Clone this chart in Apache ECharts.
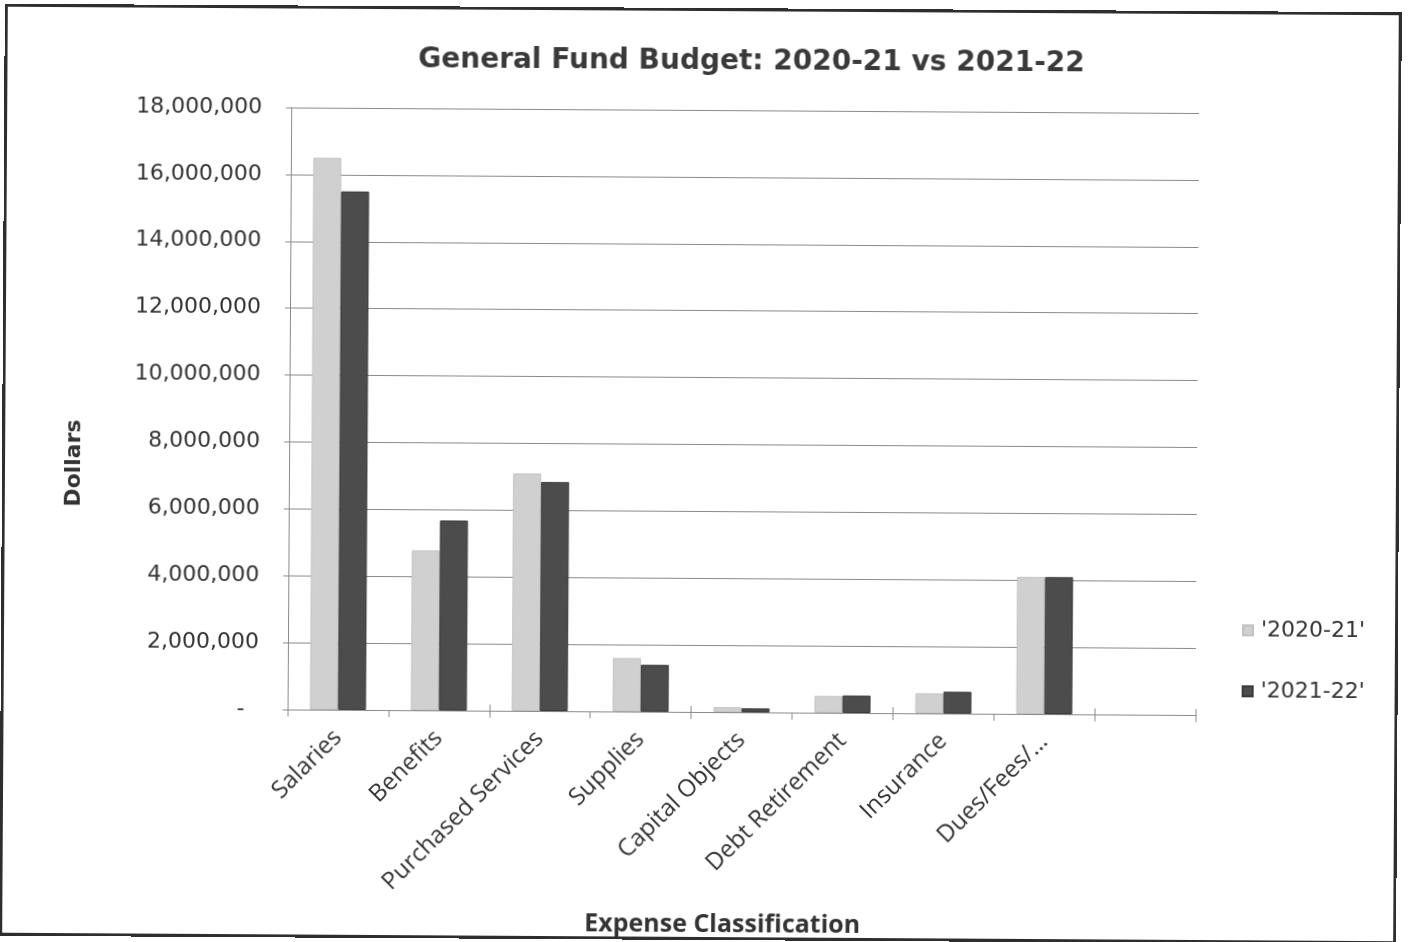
<!DOCTYPE html>
<html>
<head>
<meta charset="utf-8">
<title>General Fund Budget: 2020-21 vs 2021-22</title>
<script src="https://cdn.jsdelivr.net/npm/echarts@6/dist/echarts.min.js"></script>
<style>
  html, body { margin: 0; padding: 0; background: #fff; }
  #page { position: relative; width: 1408px; height: 942px; overflow: hidden; }
  #sheet { position: absolute; left: 0; top: 0; width: 1408px; height: 942px; transform: rotate(0.35deg); transform-origin: 704px 471px; }
  #frame { position: absolute; left: 2px; top: 8px; width: 1397px; height: 932px; box-sizing: border-box; border: 3px solid #2e2e2e; pointer-events: none; }
  #chart { position: absolute; left: 0; top: 0; width: 1408px; height: 942px; }
</style>
</head>
<body>
<div id="page">
  <div id="sheet">
    <div id="chart"></div>
    <div id="frame"></div>
  </div>
</div>
<script>
// Expense classes (the trailing slot is an empty category on the axis)
const categories = ['Salaries', 'Benefits', 'Purchased Services', 'Supplies', 'Capital Objects',
                    'Debt Retirement', 'Insurance', 'Dues/Fees/…', ''];
const seriesNames = ["'2020-21'", "'2021-22'"];
const budget2020_21 = [16500000, 4780000, 7100000, 1600000, 150000, 500000, 600000, 4100000, null];
const budget2021_22 = [15500000, 5680000, 6850000, 1400000, 120000, 520000, 650000, 4100000, null];
const yTicks = { min: 0, max: 18000000, interval: 2000000 };

const chart = echarts.init(document.getElementById('chart'), null, { renderer: 'canvas' });

const axisGray = '#8a8a8a';
const textDark = '#333333';

function dollars(v) {
  return v === 0 ? '-  ' : v.toLocaleString('en-US');
}

chart.setOption({
  backgroundColor: '#ffffff',
  animation: false,
  title: {
    text: 'General Fund Budget: 2020-21 vs 2021-22',
    left: 744,
    top: 43,
    textAlign: 'center',
    textStyle: { fontFamily: 'DejaVu Sans', fontWeight: 'bold', fontSize: 28, color: '#3a3a3a' }
  },
  legend: {
    orient: 'vertical',
    left: 1238,
    top: 611,
    itemWidth: 10,
    itemHeight: 10,
    itemGap: 39,
    icon: 'rect',
    data: seriesNames,
    textStyle: { fontFamily: 'DejaVu Sans', fontSize: 22, color: textDark, padding: [0, 0, 0, 3] }
  },
  grid: { left: 289, right: 211, top: 110, bottom: 230, containLabel: false },
  xAxis: [{
    type: 'category',
    data: categories,
    axisLine: { show: true, lineStyle: { color: axisGray, width: 1 } },
    axisTick: { show: true, length: 7, lineStyle: { color: axisGray } },
    axisLabel: {
      rotate: 45,
      margin: 24,
      interval: 0,
      fontFamily: 'Open Sans',
      fontSize: 24,
      color: textDark
    },
    splitLine: { show: false }
  }, {
    // inner half of the crossing tick marks on the category axis
    type: 'category',
    data: categories,
    position: 'bottom',
    axisLine: { show: false },
    axisTick: { show: true, inside: true, length: 6, lineStyle: { color: axisGray } },
    axisLabel: { show: false },
    splitLine: { show: false }
  }],
  yAxis: {
    type: 'value',
    min: yTicks.min,
    max: yTicks.max,
    interval: yTicks.interval,
    axisLine: { show: true, lineStyle: { color: axisGray, width: 1 } },
    axisTick: { show: true, length: 5, lineStyle: { color: axisGray } },
    axisLabel: {
      margin: 29,
      fontFamily: 'DejaVu Sans',
      fontSize: 22,
      color: textDark,
      formatter: dollars
    },
    splitLine: { show: true, lineStyle: { color: axisGray, width: 1 } }
  },
  graphic: [{
    type: 'text',
    x: 74,
    y: 467,
    rotation: Math.PI / 2,
    style: {
      text: 'Dollars',
      x: 0, y: 0,
      align: 'center',
      verticalAlign: 'middle',
      font: 'bold 22px "DejaVu Sans"',
      fill: textDark
    }
  }, {
    type: 'text',
    x: 725,
    y: 925,
    style: {
      text: 'Expense Classification',
      x: 0, y: 0,
      align: 'center',
      verticalAlign: 'middle',
      font: 'bold 25px "Open Sans"',
      fill: textDark
    }
  }],
  series: [{
    name: seriesNames[0],
    type: 'bar',
    data: budget2020_21,
    barWidth: 28,
    barGap: '0%',
    itemStyle: { color: '#d0d0d0', borderColor: '#c2c2c2', borderWidth: 1 }
  }, {
    name: seriesNames[1],
    type: 'bar',
    data: budget2021_22,
    barWidth: 28,
    barGap: '0%',
    itemStyle: { color: '#4c4c4c', borderColor: '#3a3a3a', borderWidth: 1 }
  }]
});
</script>
</body>
</html>
